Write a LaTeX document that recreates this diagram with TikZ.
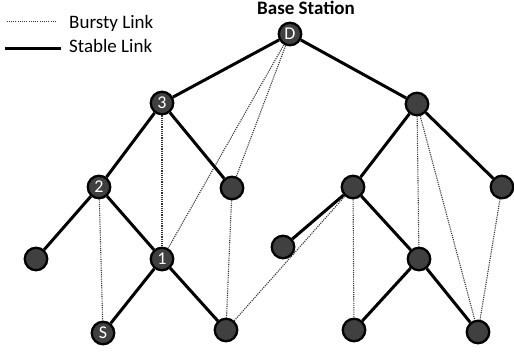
\documentclass[tikz,border=0pt]{standalone}
\usepackage{fontspec}
\setmainfont{Carlito}
\begin{document}
\begin{tikzpicture}[x=1pt,y=-1pt,
  nd/.style={circle,draw=black,fill=black!75,line width=2.3pt,minimum size=22.5pt,inner sep=0pt,text=white,font=\fontsize{18}{18}\selectfont},
  stable/.style={line width=3pt,black},
  bursty/.style={line width=1.1pt,black!80,dash pattern=on 1.1pt off 1.1pt},
  lbl/.style={font=\fontsize{19}{19}\selectfont,anchor=base west,inner sep=0pt}]
\useasboundingbox (0,0) rectangle (514,351);
% nodes
\node[nd] (D) at (290,34) {D};
\node[nd] (n3) at (162,103) {3};
\node[nd] (R) at (417,104) {};
\node[nd] (n2) at (99,187) {2};
\node[nd] (na) at (232,188) {};
\node[nd] (rL) at (353,187) {};
\node[nd] (rR) at (502,187) {};
\node[nd] (L3) at (36,259) {};
\node[nd] (n1) at (162,259) {1};
\node[nd] (rl) at (283,247) {};
\node[nd] (r3) at (419,259) {};
\node[nd] (S) at (103,333) {S};
\node[nd] (bm) at (226,330) {};
\node[nd] (b1) at (354,330) {};
\node[nd] (b2) at (478,332) {};
\node[font=\bfseries\fontsize{19}{19}\selectfont,inner sep=0pt,anchor=base] (bs) at (306,14) {Base Station};
% legend
\coordinate (lb1) at (6.5,21.7);
\coordinate (lb2) at (57,21.7);
\coordinate (ls1) at (5,48);
\coordinate (ls2) at (61,48);
\node[lbl] (tb) at (69,28.5) {Bursty Link};
\node[lbl] (ts) at (69,52.5) {Stable Link};
\draw[bursty] (lb1) -- (lb2);
\draw[stable] (ls1) -- (ls2);
% bursty links
\draw[bursty] (D) -- (n1);
\draw[bursty] (D) -- (na);
\draw[bursty] (n3) -- (n1);
\draw[bursty] (n2) -- (S);
\draw[bursty] (na) -- (bm);
\draw[bursty] (bm) -- (rL);
\draw[bursty] (rL) -- (b1);
\draw[bursty] (R) -- (r3);
\draw[bursty] (R) -- (b2);
\draw[bursty] (rR) -- (b2);
% stable links
\draw[stable] (D) -- (n3);
\draw[stable] (D) -- (R);
\draw[stable] (n3) -- (n2);
\draw[stable] (n3) -- (na);
\draw[stable] (n2) -- (L3);
\draw[stable] (n2) -- (n1);
\draw[stable] (n1) -- (S);
\draw[stable] (n1) -- (bm);
\draw[stable] (R) -- (rL);
\draw[stable] (R) -- (rR);
\draw[stable] (rL) -- (rl);
\draw[stable] (rL) -- (r3);
\draw[stable] (r3) -- (b1);
\draw[stable] (r3) -- (b2);
\end{tikzpicture}
\end{document}
